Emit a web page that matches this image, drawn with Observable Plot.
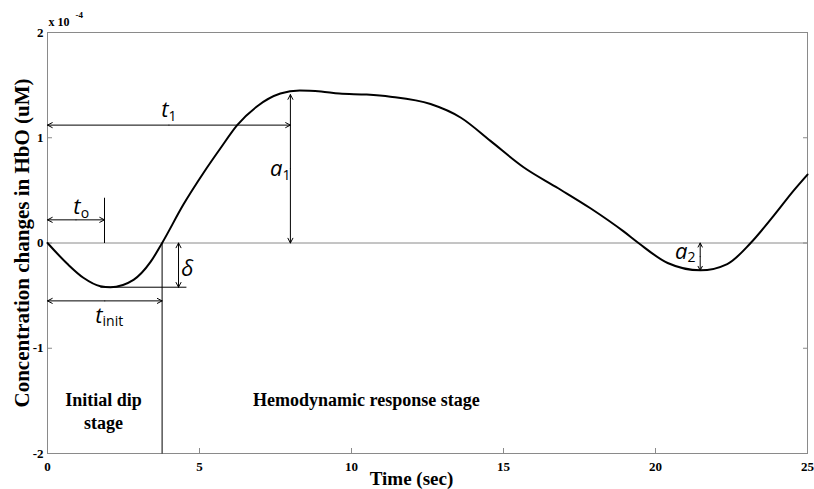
<!DOCTYPE html>
<html><head><meta charset="utf-8">
<script src="https://cdn.jsdelivr.net/npm/d3@7"></script>
<script src="https://cdn.jsdelivr.net/npm/@observablehq/plot@0.6"></script>
<style>body{margin:0;background:#fff} #chart{width:814px;height:489px}</style>
</head><body><div id="chart"></div>
<script>
// HbO concentration change (units of 1e-4 uM) vs time (sec)
const time = [0, 0.66, 1.18, 1.74, 2.07, 2.83, 3.39, 3.77, 4.48, 5.14, 5.69, 6.24, 6.9, 7.66, 8.3, 9.0, 9.6, 10.5, 11.28, 12.6, 13.6, 14.57, 15.66, 16.8, 17.86, 18.95, 19.44, 20.4, 21.48, 22.36, 23.13, 23.89, 24.55, 25];
const hbo  = [0, -0.2, -0.33, -0.41, -0.42, -0.35, -0.18, 0, 0.37, 0.67, 0.90, 1.12, 1.30, 1.42, 1.45, 1.44, 1.42, 1.41, 1.39, 1.32, 1.19, 0.97, 0.72, 0.52, 0.33, 0.11, 0, -0.19, -0.26, -0.20, 0, 0.26, 0.50, 0.65];

const xTicks = [0, 5, 10, 15, 20, 25];
const yTicks = [-2, -1, 0, 1, 2];

// double-headed arrows: t_o, t_init, t1, delta, a1, a2
const arrowX1 = [0, 0, 0, 4.31, 7.99, 21.47];
const arrowX2 = [1.875, 3.77, 7.99, 4.31, 7.99, 21.47];
const arrowY1 = [0.22, -0.55, 1.12, 0, 0, 0];
const arrowY2 = [0.22, -0.55, 1.12, -0.42, 1.41, -0.26];

// plain guide segments: t_o marker, delta level, stage divider
const segX1 = [1.875, 1.74, 3.77];
const segX2 = [1.875, 4.57, 3.77];
const segY1 = [0, -0.42, 0];
const segY2 = [0.43, -0.42, -2];

// annotation labels (base letter + subscript)
const labelBase = ["t", "t", "t", "a", "a", "δ"];
const labelSub  = ["1", "o", "init", "1", "2", ""];
const labelX    = [3.98, 1.09, 1.81, 7.73, 21.05, 4.80];
const labelY    = [1.26, 0.34, -0.69, 0.70, -0.085, -0.25];

// stage texts
const stageText = ["Initial dip\nstage", "Hemodynamic response stage"];
const stageX = [1.84, 10.49];
const stageY = [-1.59, -1.48];

const curve = time.map((t, i) => ({t, v: hbo[i]}));
const halves = [];
arrowX1.forEach((x1, i) => {
  const mx = (x1 + arrowX2[i]) / 2, my = (arrowY1[i] + arrowY2[i]) / 2;
  halves.push({x1: mx, y1: my, x2: arrowX2[i], y2: arrowY2[i]});
  halves.push({x1: mx, y1: my, x2: x1, y2: arrowY1[i]});
});
const segs = segX1.map((x1, i) => ({x1, x2: segX2[i], y1: segY1[i], y2: segY2[i]}));
const labels = labelBase.map((b, i) => ({b, s: labelSub[i], x: labelX[i], y: labelY[i]}));
const stages = stageText.map((s, i) => ({s, x: stageX[i], y: stageY[i]}));

const serif = "'Liberation Serif', 'Times New Roman', serif";
const sans = "'Open Sans', 'Noto Sans', sans-serif";

const chart = Plot.plot({
  width: 814, height: 489,
  marginLeft: 47, marginRight: 7, marginTop: 32, marginBottom: 36,
  style: {fontFamily: serif, fontWeight: "bold", fontSize: "13px", background: "#fff", color: "#000"},
  x: {domain: [0, 25]},
  y: {domain: [-2, 2]},
  marks: [
    Plot.frame({stroke: "#8a8a8a"}),
    Plot.axisX({ticks: xTicks, tickSize: -5, tickPadding: 13, tickFormat: d => String(d), stroke: "#8a8a8a", fill: "#000", fontWeight: "bold", fontSize: 13, label: null}),
    Plot.axisY({ticks: yTicks, tickSize: -5, tickPadding: 9, tickFormat: d => String(d), stroke: "#8a8a8a", fill: "#000", fontWeight: "bold", fontSize: 13, label: null}),
    Plot.axisY({anchor: "right", ticks: yTicks, tickSize: -5, tickFormat: () => "", stroke: "#8a8a8a", label: null}),
    Plot.ruleY([0], {stroke: "#8a8a8a", strokeWidth: 1}),
    Plot.link(segs, {x1: "x1", y1: "y1", x2: "x2", y2: "y2", stroke: "#000", strokeWidth: 1}),
    Plot.arrow(halves, {x1: "x1", y1: "y1", x2: "x2", y2: "y2", stroke: "#000", strokeWidth: 1, headLength: 8, headAngle: 55, inset: 0}),
    Plot.line(curve, {x: "t", y: "v", curve: "monotone-x", stroke: "#000", strokeWidth: 2}),
    Plot.text(labels, {x: "x", y: "y", text: "b", textAnchor: "end", lineAnchor: "middle", fontFamily: sans, fontStyle: "italic", fontWeight: "normal", fontSize: 22, fill: "#000"}),
    Plot.text(labels, {x: "x", y: "y", text: "s", textAnchor: "start", lineAnchor: "middle", dy: 6, fontFamily: sans, fontWeight: "normal", fontSize: 14, fill: "#000"}),
    Plot.text(stages, {x: "x", y: "y", text: "s", lineAnchor: "middle", lineHeight: 1.25, fontFamily: serif, fontWeight: "bold", fontSize: 18, fill: "#000"}),
    Plot.text(["Time (sec)"], {frameAnchor: "bottom", dx: -16, dy: 25, lineAnchor: "middle", fontFamily: serif, fontWeight: "bold", fontSize: 19, fill: "#000"}),
    Plot.text(["Concentration changes in HbO (uM)"], {frameAnchor: "left", textAnchor: "middle", dx: -25, rotate: -90, lineAnchor: "middle", fontFamily: serif, fontWeight: "bold", fontSize: 21, fill: "#000"}),
    Plot.text(["x 10"], {frameAnchor: "top-left", dx: 1, dy: -10, textAnchor: "start", lineAnchor: "middle", fontFamily: serif, fontWeight: "bold", fontSize: 12, fill: "#000"}),
    Plot.text(["-4"], {frameAnchor: "top-left", dx: 28, dy: -17, textAnchor: "start", lineAnchor: "middle", fontFamily: serif, fontWeight: "bold", fontSize: 9, fill: "#000"})
  ]
});
d3.select(chart).selectAll('g[aria-label$="tick label"]').attr("font-weight", "bold").attr("font-size", 13).selectAll("text").attr("font-weight", "bold");
document.getElementById("chart").appendChild(chart);
</script>
</body></html>
